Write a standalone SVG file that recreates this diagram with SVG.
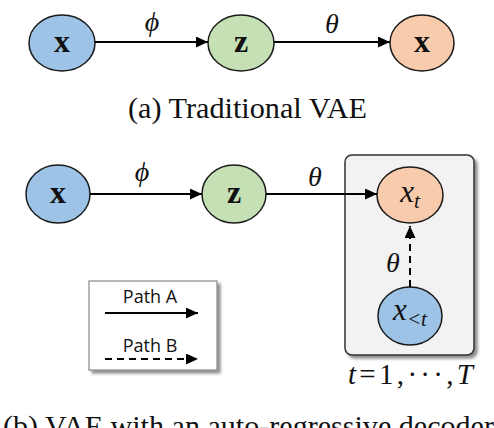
<svg xmlns="http://www.w3.org/2000/svg" width="494" height="428" viewBox="0 0 494 428">
<defs>
<style>
.node{stroke:#1a1a1a;stroke-width:1.5}
.blue{fill:#9DC3E6}.green{fill:#C5E0B4}.orange{fill:#F8CBAD}
.bold{font-family:"Liberation Serif",serif;font-weight:bold;font-size:32px;text-anchor:middle;fill:#111}
.math{font-family:"Liberation Serif",serif;font-style:italic;font-size:28px;text-anchor:middle;fill:#111}
.cap{font-family:"Liberation Serif",serif;font-size:29.8px;fill:#111}
.leg{font-family:"Open Sans",sans-serif;font-size:18px;text-anchor:middle;fill:#111}
.edge{stroke:#000;stroke-width:2;fill:none}
.dash{stroke-dasharray:7 5}
.it{font-style:italic}
</style>
<marker id="ah" viewBox="0 0 12 11" refX="12" refY="5.5" markerWidth="12" markerHeight="11" markerUnits="userSpaceOnUse" orient="auto">
<path d="M0,0 L12,5.5 L0,11 Z" fill="#000"/>
</marker>
<filter id="sh" x="-10%" y="-10%" width="130%" height="130%">
<feGaussianBlur in="SourceAlpha" stdDeviation="1.5"/>
<feOffset dx="3" dy="3" result="b"/>
<feComponentTransfer><feFuncA type="linear" slope="0.45"/></feComponentTransfer>
<feMerge><feMergeNode/><feMergeNode in="SourceGraphic"/></feMerge>
</filter>
</defs>
<rect width="494" height="428" fill="#fff"/>

<!-- (a) Traditional VAE -->
<g id="a-x"><ellipse class="node blue" cx="62" cy="43" rx="33" ry="28"/><text class="bold" x="62" y="52">x</text></g>
<g id="a-z"><ellipse class="node green" cx="241" cy="43" rx="33" ry="28"/><text class="bold" x="241" y="52">z</text></g>
<g id="a-xr"><ellipse class="node orange" cx="422" cy="43" rx="32" ry="28"/><text class="bold" x="422" y="52">x</text></g>
<g id="a-edges">
<line class="edge" x1="95" y1="42" x2="208" y2="42" marker-end="url(#ah)"/>
<line class="edge" x1="274" y1="42" x2="390" y2="42" marker-end="url(#ah)"/>
<text class="math" x="152" y="31">ϕ</text>
<text class="math" x="332" y="33">θ</text>
</g>
<text class="cap" x="128" y="118" textLength="239" lengthAdjust="spacingAndGlyphs">(a) Traditional VAE</text>

<!-- (b) -->
<g id="plate"><rect x="345" y="155" width="129" height="200" rx="7" fill="#F2F2F2" stroke="#333" stroke-width="1.5" filter="url(#sh)"/></g>
<g id="b-x"><ellipse class="node blue" cx="58" cy="194" rx="32" ry="29"/><text class="bold" x="58" y="203">x</text></g>
<g id="b-z"><ellipse class="node green" cx="234" cy="194" rx="32" ry="29"/><text class="bold" x="234" y="203">z</text></g>
<g id="b-xt"><ellipse class="node orange" cx="410" cy="195" rx="33" ry="28"/><text class="math" x="410" y="202" style="font-size:31px">x<tspan style="font-size:21px" dy="6">t</tspan></text></g>
<g id="b-xlt"><ellipse class="node blue" cx="410" cy="316" rx="32" ry="29"/><text class="math" x="410" y="320" style="font-size:31px">x<tspan style="font-size:21px" dy="6">&lt;t</tspan></text></g>
<g id="b-edges">
<line class="edge" x1="90" y1="194" x2="202" y2="194" marker-end="url(#ah)"/>
<line class="edge" x1="266" y1="194" x2="377" y2="194" marker-end="url(#ah)"/>
<line class="edge dash" x1="410" y1="287" x2="410" y2="226" marker-end="url(#ah)"/>
<text class="math" x="142" y="181">ϕ</text>
<text class="math" x="315" y="186">θ</text>
<text class="math" x="393" y="272">θ</text>
</g>
<text class="math" x="348" y="384" textLength="125" lengthAdjust="spacing" style="font-style:normal;font-size:29px;text-anchor:start"><tspan class="it">t</tspan>=1,···,<tspan class="it">T</tspan></text>

<g id="legend">
<rect x="89" y="281" width="128" height="89" fill="#fff" stroke="#888" stroke-width="1.2" filter="url(#sh)"/>
<text class="leg" x="150" y="303">Path A</text>
<line class="edge" x1="105" y1="313" x2="198" y2="313" marker-end="url(#ah)"/>
<text class="leg" x="150" y="352">Path B</text>
<line class="edge dash" x1="105" y1="359" x2="198" y2="359" marker-end="url(#ah)"/>
</g>
<text class="cap" x="3" y="436" textLength="491" lengthAdjust="spacingAndGlyphs">(b) VAE with an auto-regressive decoder</text>
</svg>
